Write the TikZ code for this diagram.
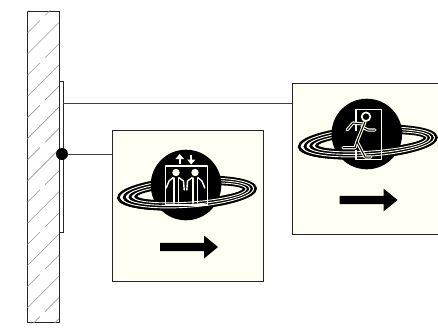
\documentclass[tikz,border=0pt]{standalone}
\usepackage{tikz}
\definecolor{signpaper}{HTML}{FFFFF3}
\newcommand{\boundring}[3]% x shift, semi axes
{(#1,0) ellipse (#2 and #3)
}
% rings round a planet, #1 is the pen colour of the gaps
\newcommand{\ringset}[1]{
	\draw[black,line width=2.5pt] \boundring{0}{68.8}{15.5};
	\draw[black,line width=2.5pt] \boundring{1}{64}{13};
	\draw[black,line width=2.5pt] \boundring{2}{59.2}{10.5};
	\draw[black,line width=2.5pt] \boundring{3}{54.4}{8};
	\draw[#1,line width=.9pt] \boundring{.5}{66.4}{14.25};
	\draw[#1,line width=.9pt] \boundring{1.5}{61.6}{11.75};
	\draw[#1,line width=.9pt] \boundring{2.5}{56.8}{9.25};
}
% planet with rings, centre at #1,#2
\newcommand{\saturnsign}[2]{
	\begin{scope}[shift={(#1+1,#2+8)},rotate=4]
		\ringset{signpaper}
	\end{scope}
	\fill[black] (#1,#2) circle (35.3);
	\begin{scope}[shift={(#1+1,#2+8)},rotate=4]
		\clip (-75,0) rectangle (75,25);
		\ringset{signpaper}
	\end{scope}
}
\newcommand{\signarrow}[2]{
	\fill[black] (#1-29,#2-4.2) -- (#1+15,#2-4.2) -- (#1+15,#2-11.5) -- (#1+29,#2) -- (#1+15,#2+11.5) -- (#1+15,#2+4.2) -- (#1-29,#2+4.2) -- cycle;
}
% lift passenger, #2 says on which side the hands meet
\newcommand{\liftperson}[2]{
	\fill[signpaper] (#1,172.5) circle (3.7);
	\draw[iconline,line width=1.4pt] (#1-2.2,203) -- (#1-2.2,178) (#1+2.2,203) -- (#1+2.2,178);
	\draw[iconline,line width=1.4pt] (#1-#2*2.8,177.5) -- (#1-#2*7.5,181) -- (#1-#2*8.2,190);
	\draw[iconline,line width=1.4pt] (#1+#2*2.8,177.5) -- (#1+#2*7,181) -- (#1+#2*9.8,188);
}
\tikzset{
	iconline/.style={draw=signpaper,line cap=round,line join=round},
	signbox/.style={draw=black!85,line width=.7pt,fill=signpaper,minimum width=151pt,minimum height=151pt,inner sep=0pt},
	wire/.style={draw=black!75,line width=.7pt},
	hatchline/.style={draw=black!40,line width=.6pt},
}

\begin{document}
\begin{tikzpicture}[x=1pt,y=-1pt]
	\clip (0,0) rectangle (438,327);
	\node[draw=black!85,line width=.7pt,minimum width=31.5pt,minimum height=311pt,inner sep=0pt] (wall) at (43.2,166.5){};
	\begin{scope}
		\clip (wall.south west) rectangle (wall.north east);
		\foreach \k in {-1,...,7}{
			\draw[hatchline] (27.5,54+42.3*\k) -- ++(31.5,-31.5);
			\draw[hatchline] (27.5,33+42.3*\k) -- ++(12.5,-12.5) ++(5,-5) -- ++(14,-14);
		}
	\end{scope}
	\node[draw=black!85,line width=.7pt,minimum width=4pt,minimum height=151pt,inner sep=0pt] (plate) at (61,156.5){};
	\node[signbox] (liftsign) at (188.3,206.2){};
	\node[signbox] (exitsign) at (368,158.5){};
	\node[circle,fill=black,minimum size=12pt,inner sep=0pt] (joint) at (62,154){};
	\coordinate (exitfeed) at (63,103.5);
	\draw[wire] (joint) -- (liftsign.west |- joint);
	\draw[wire] (exitfeed) -- (exitsign.west |- exitfeed);
	%lift sign
	\saturnsign{186}{185}
	\signarrow{189}{247}
	\draw[iconline,line width=1.2pt,line cap=butt] (165.7,166) rectangle (207.7,205);
	\draw[iconline,line width=2pt,line cap=butt] (179.7,163.5) -- (179.7,158);
	\fill[signpaper] (179.7,154) -- (184,159) -- (175.4,159) -- cycle;
	\draw[iconline,line width=1.5pt,line cap=butt] (191.2,155) -- (191.2,160);
	\fill[signpaper] (191.2,164.5) -- (187,159.5) -- (195.4,159.5) -- cycle;
	\liftperson{176}{-1}
	\liftperson{195}{1}
	%exit sign
	\saturnsign{366.8}{134}
	\signarrow{368.5}{200}
	\draw[iconline,line width=1.2pt,line cap=butt] (356,131) |- (381.7,109.3) -- (381.7,159.3) -- (356,159.3) -- (356,150);
	\draw[iconline,line width=1.7pt] (366,116.7) circle (4.3);
	\draw[double=black,double distance=1pt,iconline,line width=1.1pt] (347,130) -- (353,123) -- (363,124) (368,130) -- (375,130) (368,130) -- (362,127);
	\draw[double=black,double distance=1pt,iconline,line width=1.1pt] (343,147.7) -- (355,147.7) -- (357,141.5) -- (365,157) -- (371,157) (357,141.5) -- (365,122);
\end{tikzpicture}
\end{document}
